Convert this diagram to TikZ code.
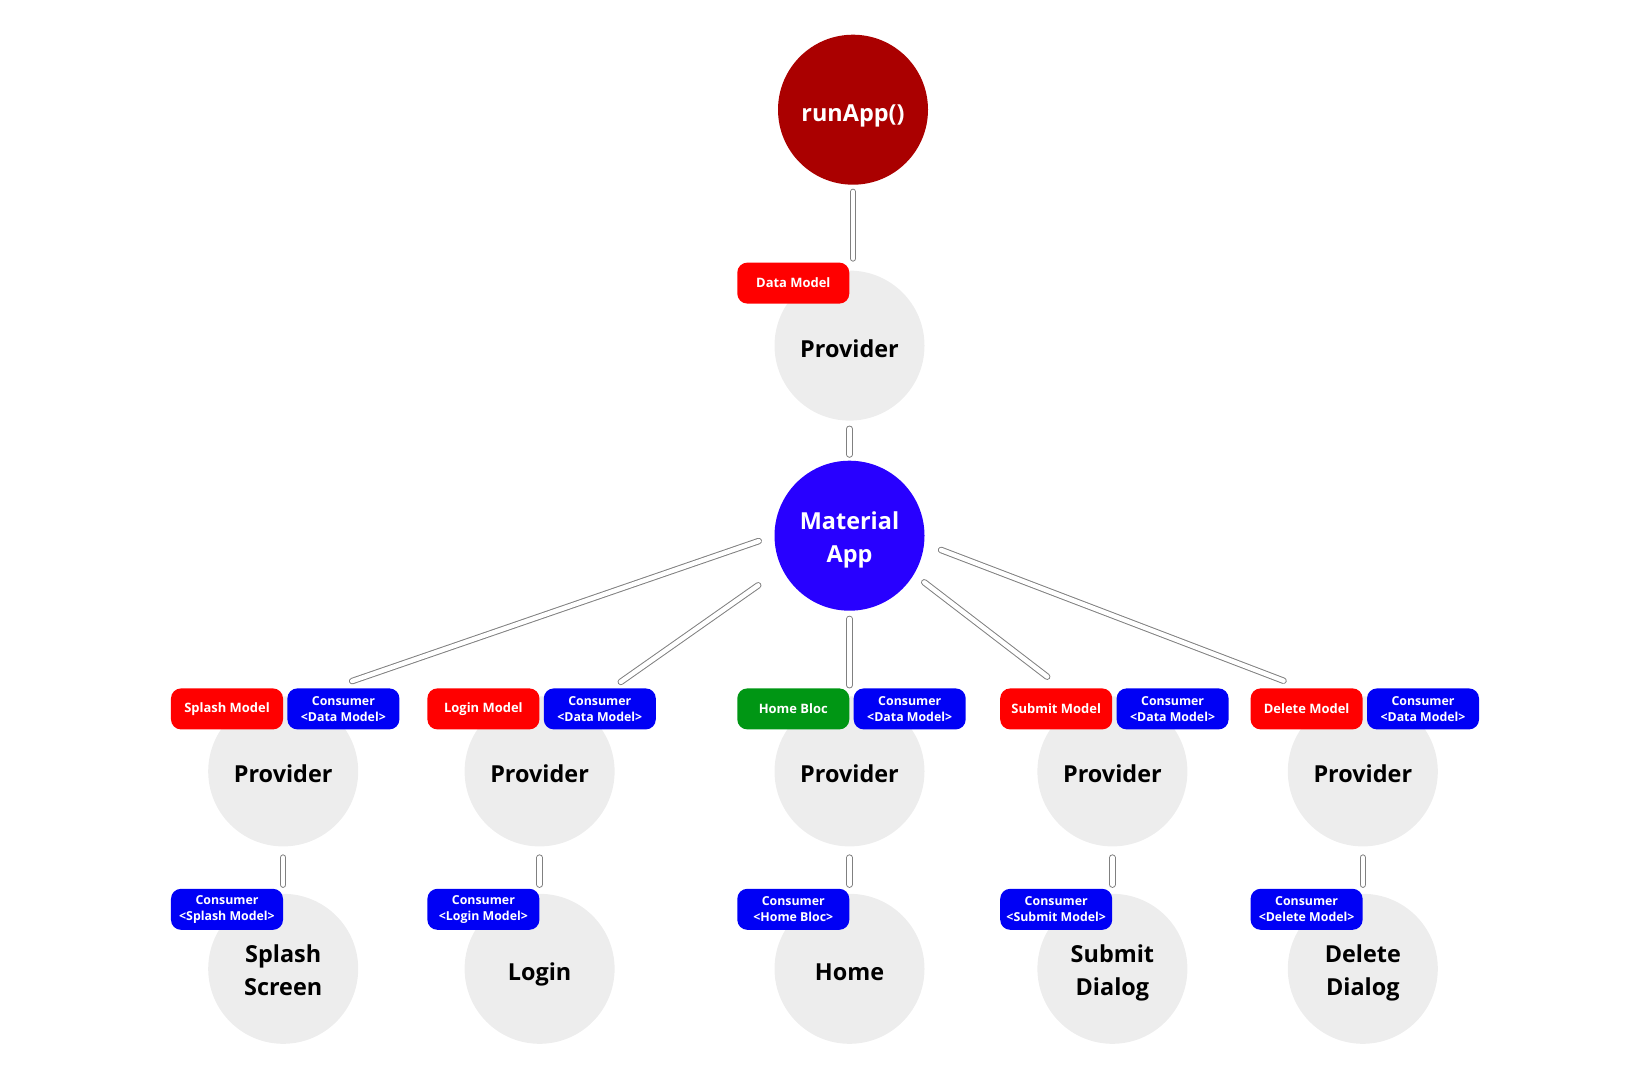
\documentclass[tikz,border=0pt]{standalone}
\usepackage{fontspec}
\setmainfont{Open Sans}
\usepackage{xcolor}
\definecolor{rojoRun}{RGB}{170,0,0}
\definecolor{azulApp}{RGB}{40,0,255}
\definecolor{rojoMod}{RGB}{255,0,0}
\definecolor{azulCons}{RGB}{0,0,245}
\definecolor{verdeBloc}{RGB}{0,150,20}
\definecolor{grisNodo}{RGB}{237,237,237}
\usetikzlibrary{positioning}

\begin{document}
\begin{tikzpicture}[x=1bp, y=-1bp,
  circ/.style={circle, fill=grisNodo, minimum size=150bp, inner sep=0pt,
               align=center, font=\fontsize{23.5}{33}\selectfont\bfseries,
               execute at begin node={\rule{0pt}{30bp}},
               execute at end node={\rule[-7bp]{0pt}{7bp}}},
  dos/.style={circ, execute at begin node={\rule{0pt}{61bp}}},
  model/.style={rectangle, rounded corners=10bp, fill=rojoMod, text=white,
                minimum width=112bp, minimum height=41bp, inner sep=0pt,
                align=center, font=\fontsize{13}{16.5}\selectfont\bfseries},
  cons/.style={model, fill=azulCons, font=\fontsize{12.4}{16.5}\selectfont\bfseries},
  conn/.style={draw=gray, line width=1bp, double=white, double distance=4.5bp,
               line cap=round}
]
\useasboundingbox (0,0) rectangle (1652,1080);

% Columna central: runApp -> Provider -> MaterialApp
\node[dos, fill=azulApp, text=white] (app) at (849.5,535.7) {Material\\App};
\node[circ, above=39.7bp of app] (prov) {Provider};
\node[circ, fill=rojoRun, text=white, above=85.5bp of prov, xshift=3.5bp] (run) {runApp()};
\node[model, anchor=north east] (md00) at ([yshift=8bp]prov.north) {Data Model};

% Fila de providers
\node[circ, below=85.3bp of app] (pv03) {Provider};
\node[circ, left=159.5bp of pv03] (pv02) {Provider};
\node[circ, left=106bp of pv02] (pv01) {Provider};
\node[circ, right=112.5bp of pv03] (pv04) {Provider};
\node[circ, right=100bp of pv04] (pv05) {Provider};

% Fila de pantallas
\node[dos, below=47bp of pv01] (sc01) {Splash\\Screen};
\node[circ, below=47bp of pv02] (sc02) {Login};
\node[circ, below=47bp of pv03] (sc03) {Home};
\node[dos, below=47bp of pv04] (sc04) {Submit\\Dialog};
\node[dos, below=47bp of pv05] (sc05) {Delete\\Dialog};

% Etiquetas de los providers
\node[model, anchor=north east] (md01) at ([yshift=8bp]pv01.north) {Splash Model};
\node[cons, right=4bp of md01] (cs01) {Consumer\\<Data Model>};
\node[model, anchor=north east] (md02) at ([yshift=8bp]pv02.north) {Login Model};
\node[cons, right=4bp of md02] (cs02) {Consumer\\<Data Model>};
\node[model, fill=verdeBloc, anchor=north east] (md03) at ([yshift=8bp]pv03.north) {Home Bloc};
\node[cons, right=4bp of md03] (cs03) {Consumer\\<Data Model>};
\node[model, anchor=north east] (md04) at ([yshift=8bp]pv04.north) {Submit Model};
\node[cons, right=4bp of md04] (cs04) {Consumer\\<Data Model>};
\node[model, anchor=north east] (md05) at ([yshift=8bp]pv05.north) {Delete Model};
\node[cons, right=4bp of md05] (cs05) {Consumer\\<Data Model>};

% Etiquetas de las pantallas
\node[cons, anchor=north east] (cr01) at ([yshift=5bp]sc01.north) {Consumer\\<Splash Model>};
\node[cons, anchor=north east] (cr02) at ([yshift=5bp]sc02.north) {Consumer\\<Login Model>};
\node[cons, anchor=north east] (cr03) at ([yshift=5bp]sc03.north) {Consumer\\<Home Bloc>};
\node[cons, anchor=north east] (cr04) at ([yshift=5bp]sc04.north) {Consumer\\<Submit Model>};
\node[cons, anchor=north east] (cr05) at ([yshift=5bp]sc05.north) {Consumer\\<Delete Model>};

% Conexiones verticales
\draw[conn, shorten <=7bp, shorten >=12bp] (run.south) -- (run.south |- prov.north);
\draw[conn, shorten <=8bp, shorten >=6bp] (prov) -- (app);
\draw[conn, shorten <=8bp, shorten >=11bp] (app.south) -- (pv03.north);

% Conexiones en abanico
\draw[conn, shorten <=16.5bp, shorten >=22bp] (app.180) -- ([xshift=-12bp]cs01.north);
\draw[conn, shorten <=29bp, shorten >=11bp] (app.206) -- ([xshift=12bp]cs02.north);
\draw[conn, shorten <=13bp, shorten >=19bp] (app.-31) -- ([xshift=6bp]md04.north);
\draw[conn, shorten <=18bp, shorten >=21bp] (app.-6) -- ([xshift=-3.5bp]md05.north);

% Provider -> pantalla
\draw[conn, shorten <=11bp, shorten >=9bp] (pv01) -- (sc01);
\draw[conn, shorten <=11bp, shorten >=9bp] (pv02) -- (sc02);
\draw[conn, shorten <=11bp, shorten >=9bp] (pv03) -- (sc03);
\draw[conn, shorten <=11bp, shorten >=9bp] (pv04) -- (sc04);
\draw[conn, shorten <=11bp, shorten >=9bp] (pv05) -- (sc05);

\end{tikzpicture}
\end{document}
